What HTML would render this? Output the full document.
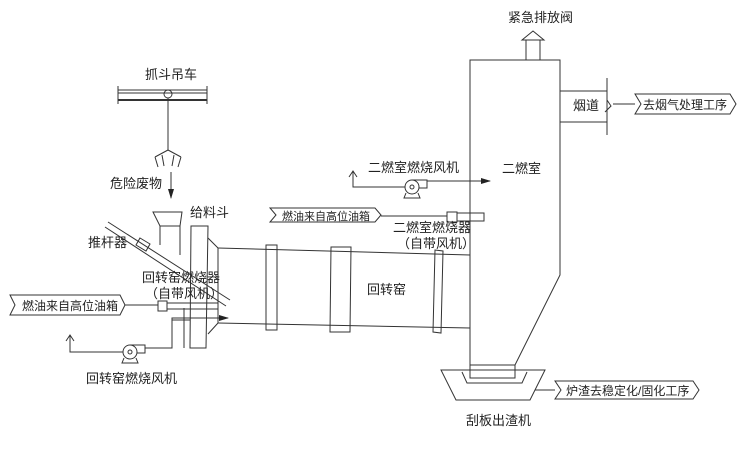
<!DOCTYPE html>
<html><head><meta charset="utf-8"><style>
html,body{margin:0;padding:0;background:#fff;}
svg{display:block}
text{font-family:"Liberation Sans","Noto Sans CJK SC",sans-serif;font-size:13px;fill:#222}
</style></head><body>
<svg width="750" height="450" viewBox="0 0 750 450" xmlns="http://www.w3.org/2000/svg">
<defs><marker id="a" markerWidth="10" markerHeight="6" refX="9" refY="3" orient="auto"><path d="M0,0 L10,3 L0,6 Z" fill="#222"/></marker></defs>
<g fill="none" stroke="#333" stroke-width="1">
<line x1="118" y1="90" x2="207" y2="90"/><line x1="118" y1="93" x2="207" y2="93"/>
<line x1="118" y1="100" x2="207" y2="100" stroke-width="2"/>
<line x1="118" y1="86" x2="118" y2="104"/><line x1="207" y1="86" x2="207" y2="104"/>
<circle cx="168" cy="94" r="4"/>
<line x1="168" y1="98" x2="168" y2="150"/>
<path d="M168,150 L155,157 M168,150 L181,157 M155,157 L158,167 M162,155 L164,166 M174,155 L172,166 M181,157 L178,167"/>
<line x1="171" y1="172" x2="171" y2="198" marker-end="url(#a)"/>
<path d="M153,212 L182,212 L180,226 L160,226 Z"/>
<path d="M160,226 L160,245 M180,226 L180,255"/>
<path d="M108,222 L230,300 M105,227 L226,306"/>
<path d="M140,238 L150,244 L146,251 L136,245 Z"/>
<path d="M191,226 L208,226 L206,348 L190,348 Z"/>
<path d="M208,238 L218,248 M208,334 L218,323 M218,248 L218,323"/>
<path d="M184,308 L184,348 M172,320 L190,320"/>
<path d="M218,248 L470,255 M218,323 L470,328"/>
<path d="M266,245 L277,245 L277,330 L266,330 Z"/>
<path d="M331,247 L351,247 L350,332 L330,332 Z"/>
<path d="M435,250 L443,251 L441,333 L433,332 Z"/>
<path d="M10,295 L120,295 L125,305 L120,315 L10,315 L15,305 Z"/>
<line x1="125" y1="305" x2="158" y2="305"/>
<rect x="158" y="301" width="9" height="10"/>
<path d="M167,303 L218,303 L218,309 L167,309"/>
<circle cx="130" cy="352" r="7"/><circle cx="130" cy="352" r="2"/>
<path d="M130,345 L145,345 L145,353 L137,353"/>
<path d="M124,358 L122,363 L138,363 L136,358"/>
<path d="M145,348 L172,348 L172,318 L228,318" marker-end="url(#a)"/>
<path d="M123,352 L70,352 L70,336 M66,341 L70,335 L74,341"/>
<path d="M270,208 L375,208 L381,215 L375,222 L270,222 L276,215 Z"/>
<line x1="381" y1="216" x2="447" y2="216"/>
<rect x="447" y="212" width="10" height="10"/>
<path d="M457,213 L484,213 L484,221 L457,221"/>
<circle cx="412" cy="187" r="7"/><circle cx="412" cy="187" r="2"/>
<path d="M412,180 L427,180 L427,188 L419,188"/>
<path d="M406,193 L404,198 L420,198 L418,193"/>
<path d="M427,181 L490,181" marker-end="url(#a)"/>
<path d="M405,187 L353,187 L353,172 M349,177 L353,171 L357,177"/>
<path d="M470,60 L560,60 L560,275 L515,365 L470,365 Z"/>
<path d="M470,365 L470,378 L515,378 L515,365"/>
<path d="M526,60 L526,40 L540,40 L540,60 M522,40 L533,31 L544,40 Z"/>
<path d="M560,91 L607,91 M560,122 L607,122 M607,78 L607,135"/>
<path d="M607,100 L611,106 L605,112"/>
<line x1="613" y1="104" x2="635" y2="104"/>
<path d="M635,94 L730,94 L736,104 L730,114 L635,114 L641,104 Z"/>
<path d="M441,370 L545,370 L530,400 L456,400 Z"/>
<path d="M462,372 L467,383 L522,383 L527,372"/>
<line x1="535" y1="390" x2="555" y2="390"/>
<path d="M555,381 L693,381 L699,390 L693,399 L555,399 L561,390 Z"/>
</g>
<text x="145" y="79">抓斗吊车</text>
<text x="110" y="188">危险废物</text>
<text x="190" y="217">给料斗</text>
<text x="88" y="247">推杆器</text>
<text x="142" y="282">回转窑燃烧器</text>
<text x="145" y="298">（自带风机）</text>
<text x="22" y="310" style="font-size:12px">燃油来自高位油箱</text>
<text x="86" y="383">回转窑燃烧风机</text>
<text x="367" y="294">回转窑</text>
<text x="282" y="220" style="font-size:11px">燃油来自高位油箱</text>
<text x="368" y="172">二燃室燃烧风机</text>
<text x="393" y="232">二燃室燃烧器</text>
<text x="397" y="248">（自带风机）</text>
<text x="502" y="173">二燃室</text>
<text x="508" y="22">紧急排放阀</text>
<text x="573" y="110">烟道</text>
<text x="643" y="109" style="font-size:12px">去烟气处理工序</text>
<text x="566" y="395" style="font-size:12px">炉渣去稳定化/固化工序</text>
<text x="466" y="425">刮板出渣机</text>
</svg>
</body></html>
